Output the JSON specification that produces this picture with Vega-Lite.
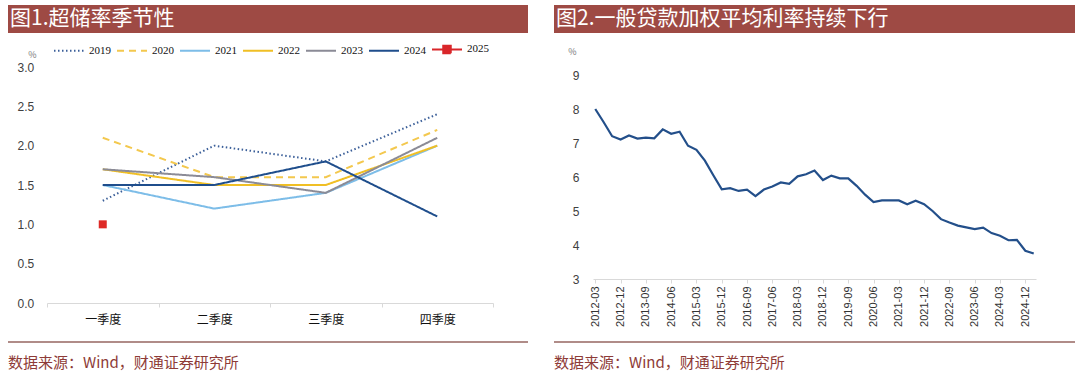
{
  "$schema": "https://vega.github.io/schema/vega-lite/v6.json",
  "background": "white",
  "padding": {"left": 7, "top": 5, "right": 8, "bottom": 0},
  "spacing": 24,
  "config": {
    "view": {"stroke": null},
    "font": "Noto Sans CJK SC",
    "axis": {"labelFont": "Liberation Sans", "labelColor": "#404040", "grid": false}
  },
  "hconcat": [
    {
      "columns": 1,
      "align": "none",
      "bounds": "full",
      "spacing": {"row": 0, "column": 0},
      "resolve": {"scale": {"color": "independent", "strokeDash": "independent"}, "legend": {"color": "independent", "strokeDash": "independent"}},
      "concat": [
        {
          "width": 520, "height": 28,
          "view": {"fill": "#9e4a44", "stroke": null},
          "data": {"values": [{"t": "图1.超储率季节性"}]},
          "mark": {"type": "text", "align": "left", "baseline": "middle", "color": "white", "fontSize": 21, "dx": 2, "font": "Noto Sans CJK SC"},
          "encoding": {
            "text": {"field": "t"},
            "x": {"datum": 0, "type": "quantitative", "scale": {"domain": [0, 1]}, "axis": null},
            "y": {"datum": 0.5, "type": "quantitative", "scale": {"domain": [0, 1]}, "axis": null}
          }
        },
        {
          "width": 485, "height": 236,
          "data": {"values": [
            {"q": "一季度", "year": "2019", "v": 1.3}, {"q": "二季度", "year": "2019", "v": 2.0}, {"q": "三季度", "year": "2019", "v": 1.8}, {"q": "四季度", "year": "2019", "v": 2.4},
            {"q": "一季度", "year": "2020", "v": 2.1}, {"q": "二季度", "year": "2020", "v": 1.6}, {"q": "三季度", "year": "2020", "v": 1.6}, {"q": "四季度", "year": "2020", "v": 2.2},
            {"q": "一季度", "year": "2021", "v": 1.5}, {"q": "二季度", "year": "2021", "v": 1.2}, {"q": "三季度", "year": "2021", "v": 1.4}, {"q": "四季度", "year": "2021", "v": 2.0},
            {"q": "一季度", "year": "2022", "v": 1.7}, {"q": "二季度", "year": "2022", "v": 1.5}, {"q": "三季度", "year": "2022", "v": 1.5}, {"q": "四季度", "year": "2022", "v": 2.0},
            {"q": "一季度", "year": "2023", "v": 1.7}, {"q": "二季度", "year": "2023", "v": 1.6}, {"q": "三季度", "year": "2023", "v": 1.4}, {"q": "四季度", "year": "2023", "v": 2.1},
            {"q": "一季度", "year": "2024", "v": 1.5}, {"q": "二季度", "year": "2024", "v": 1.5}, {"q": "三季度", "year": "2024", "v": 1.8}, {"q": "四季度", "year": "2024", "v": 1.1},
            {"q": "一季度", "year": "2025", "v": 1.0}
          ]},
          "encoding": {
            "x": {"field": "q", "type": "nominal", "sort": ["一季度", "二季度", "三季度", "四季度"],
                  "scale": {"type": "band", "paddingInner": 0, "paddingOuter": 0, "range": [39, 485]},
                  "axis": {"title": null, "labelAngle": 0, "labelFont": "Noto Sans CJK SC", "labelFontSize": 12, "labelColor": "#111111",
                           "domainColor": "#d9d9d9", "tickColor": "#d9d9d9", "tickSize": 4, "tickBand": "extent", "labelPadding": 7, "minExtent": 38}},
            "y": {"field": "v", "type": "quantitative",
                  "scale": {"domain": [0, 3], "nice": false, "zero": true},
                  "axis": {"values": [0, 0.5, 1, 1.5, 2, 2.5, 3], "format": ".1f", "domain": false, "ticks": false,
                           "labelFontSize": 12, "labelAlign": "left", "labelPadding": 30, "offset": -39,
                           "title": "%", "titleAngle": 0, "titleX": -15, "titleY": -13, "titleFontSize": 9, "titleFontWeight": "normal",
                           "titleColor": "#777777", "titleAlign": "center", "titleBaseline": "middle"}}
          },
          "layer": [
            {
              "mark": {"type": "line", "strokeWidth": 2},
              "encoding": {
                "color": {"field": "year", "type": "nominal",
                          "scale": {"domain": ["2019", "2020", "2021", "2022", "2023", "2024", "2025"],
                                    "range": ["#3b5f99", "#f3c84e", "#7dbde8", "#f0bf25", "#8b8b96", "#1f4e8c", "#d9262a"]},
                          "legend": {"orient": "none", "legendX": 45, "legendY": -33.7, "title": null, "direction": "horizontal", "symbolType": "stroke",
                                     "symbolSize": 900, "symbolStrokeWidth": 2, "labelFont": "Liberation Serif", "labelFontSize": 11,
                                     "labelColor": "#111111", "columnPadding": 2, "labelOffset": 4, "padding": 0,
                                     "encode": {"symbols": {"update": {
                                       "shape": {"signal": "datum.value == '2025' ? 'M-1,0H1M-0.25,-0.25H0.25V0.25H-0.25Z' : 'stroke'"},
                                       "fill": {"signal": "datum.value == '2025' ? '#d9262a' : 'transparent'"}
                                     }}}}},
                "strokeDash": {"field": "year", "type": "nominal",
                               "scale": {"domain": ["2019", "2020", "2021", "2022", "2023", "2024", "2025"],
                                         "range": [[1.5, 2.5], [7, 5], [1, 0], [1, 0], [1, 0], [1, 0], [1, 0]]}}
              }
            },
            {
              "transform": [{"filter": "datum.year == '2025'"}],
              "mark": {"type": "square", "size": 64, "opacity": 1, "color": "#de2a26"},
              "encoding": {}
            }
          ]
        },
        {
          "width": 520, "height": 30,
          "data": {"values": [{"t": "数据来源：Wind，财通证券研究所"}]},
          "layer": [
            {
              "mark": {"type": "rule", "color": "#b08c88", "strokeWidth": 2},
              "encoding": {"y": {"datum": 1, "type": "quantitative", "scale": {"domain": [0, 1]}, "axis": null}}
            },
            {
              "mark": {"type": "text", "align": "left", "baseline": "middle", "color": "#8e3b37", "fontSize": 15, "font": "Noto Sans CJK SC"},
              "encoding": {
                "text": {"field": "t"},
                "x": {"datum": 0, "type": "quantitative", "scale": {"domain": [0, 1]}, "axis": null},
                "y": {"datum": 0.3, "type": "quantitative", "scale": {"domain": [0, 1]}, "axis": null}
              }
            }
          ]
        }
      ]
    },
    {
      "columns": 1,
      "align": "none",
      "bounds": "full",
      "spacing": {"row": 14, "column": 0},
      "concat": [
        {
          "width": 521, "height": 28,
          "view": {"fill": "#9e4a44", "stroke": null},
          "data": {"values": [{"t": "图2.一般贷款加权平均利率持续下行"}]},
          "mark": {"type": "text", "align": "left", "baseline": "middle", "color": "white", "fontSize": 21, "dx": 2, "font": "Noto Sans CJK SC"},
          "encoding": {
            "text": {"field": "t"},
            "x": {"datum": 0, "type": "quantitative", "scale": {"domain": [0, 1]}, "axis": null},
            "y": {"datum": 0.5, "type": "quantitative", "scale": {"domain": [0, 1]}, "axis": null}
          }
        },
        {
          "width": 482, "height": 204,
          "data": {"values": [
            {"d": "2012-03", "v": 8.00}, {"d": "2012-06", "v": 7.61}, {"d": "2012-09", "v": 7.20}, {"d": "2012-12", "v": 7.10},
            {"d": "2013-03", "v": 7.22}, {"d": "2013-06", "v": 7.13}, {"d": "2013-09", "v": 7.16}, {"d": "2013-12", "v": 7.14},
            {"d": "2014-03", "v": 7.40}, {"d": "2014-06", "v": 7.27}, {"d": "2014-09", "v": 7.33}, {"d": "2014-12", "v": 6.92},
            {"d": "2015-03", "v": 6.80}, {"d": "2015-06", "v": 6.48}, {"d": "2015-09", "v": 6.05}, {"d": "2015-12", "v": 5.64},
            {"d": "2016-03", "v": 5.67}, {"d": "2016-06", "v": 5.59}, {"d": "2016-09", "v": 5.63}, {"d": "2016-12", "v": 5.44},
            {"d": "2017-03", "v": 5.63}, {"d": "2017-06", "v": 5.72}, {"d": "2017-09", "v": 5.84}, {"d": "2017-12", "v": 5.80},
            {"d": "2018-03", "v": 6.02}, {"d": "2018-06", "v": 6.08}, {"d": "2018-09", "v": 6.19}, {"d": "2018-12", "v": 5.91},
            {"d": "2019-03", "v": 6.04}, {"d": "2019-06", "v": 5.96}, {"d": "2019-09", "v": 5.96}, {"d": "2019-12", "v": 5.74},
            {"d": "2020-03", "v": 5.48}, {"d": "2020-06", "v": 5.26}, {"d": "2020-09", "v": 5.31}, {"d": "2020-12", "v": 5.31},
            {"d": "2021-03", "v": 5.31}, {"d": "2021-06", "v": 5.20}, {"d": "2021-09", "v": 5.30}, {"d": "2021-12", "v": 5.20},
            {"d": "2022-03", "v": 5.00}, {"d": "2022-06", "v": 4.76}, {"d": "2022-09", "v": 4.66}, {"d": "2022-12", "v": 4.57},
            {"d": "2023-03", "v": 4.52}, {"d": "2023-06", "v": 4.47}, {"d": "2023-09", "v": 4.51}, {"d": "2023-12", "v": 4.35},
            {"d": "2024-03", "v": 4.27}, {"d": "2024-06", "v": 4.14}, {"d": "2024-09", "v": 4.15}, {"d": "2024-12", "v": 3.83},
            {"d": "2025-03", "v": 3.75}
          ]},
          "mark": {"type": "line", "color": "#234f8a", "strokeWidth": 2.2},
          "encoding": {
            "x": {"field": "d", "type": "ordinal", "scale": {"type": "point", "padding": 0.27, "range": [39, 482]},
                  "axis": {"title": null, "labelAngle": -90, "labelFontSize": 11, "labelColor": "#333333",
                           "values": ["2012-03", "2012-12", "2013-09", "2014-06", "2015-03", "2015-12", "2016-09", "2017-06", "2018-03", "2018-12", "2019-09", "2020-06", "2021-03", "2021-12", "2022-09", "2023-06", "2024-03", "2024-12"],
                           "domainColor": "#d9d9d9", "tickColor": "#d9d9d9", "tickSize": 4, "labelPadding": 3}},
            "y": {"field": "v", "type": "quantitative",
                  "scale": {"domain": [3, 9], "nice": false, "zero": false},
                  "axis": {"values": [3, 4, 5, 6, 7, 8, 9], "domain": false, "ticks": false, "labelFontSize": 12,
                           "labelAlign": "right", "labelPadding": 14, "offset": -39,
                           "title": "%", "titleAngle": 0, "titleX": -21, "titleY": -23.8, "titleFontSize": 9, "titleFontWeight": "normal",
                           "titleColor": "#777777", "titleAlign": "center", "titleBaseline": "middle"}}
          }
        },
        {
          "width": 521, "height": 30,
          "data": {"values": [{"t": "数据来源：Wind，财通证券研究所"}]},
          "layer": [
            {
              "mark": {"type": "rule", "color": "#b08c88", "strokeWidth": 2},
              "encoding": {"y": {"datum": 1, "type": "quantitative", "scale": {"domain": [0, 1]}, "axis": null}}
            },
            {
              "mark": {"type": "text", "align": "left", "baseline": "middle", "color": "#8e3b37", "fontSize": 15, "font": "Noto Sans CJK SC"},
              "encoding": {
                "text": {"field": "t"},
                "x": {"datum": 0, "type": "quantitative", "scale": {"domain": [0, 1]}, "axis": null},
                "y": {"datum": 0.3, "type": "quantitative", "scale": {"domain": [0, 1]}, "axis": null}
              }
            }
          ]
        }
      ]
    }
  ]
}
